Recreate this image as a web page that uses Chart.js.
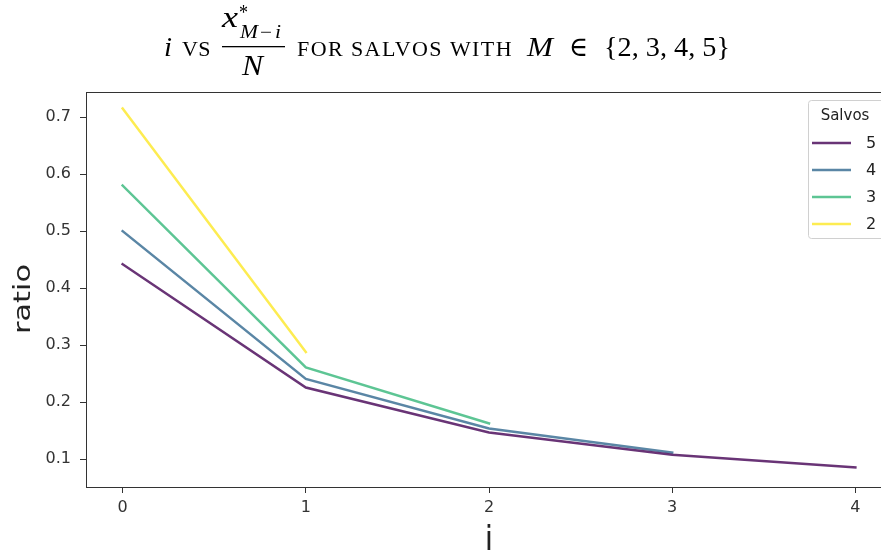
<!DOCTYPE html>
<html>
<head>
<meta charset="utf-8">
<script src="https://cdn.jsdelivr.net/npm/chart.js@4/dist/chart.umd.min.js"></script>
<style>
    html, body { margin: 0; padding: 0; background: #fff; overflow: hidden; }
    #wrap { width: 881px; height: 553px; overflow: hidden; position: relative; }
</style>
</head>
<body>
<div id="wrap"><canvas id="myChart" width="900" height="553"></canvas></div>
<script>
// Data
var steps = [0, 1, 2, 3, 4];
var salvoLabels = ['5', '4', '3', '2'];
var ratio5 = [0.442, 0.226, 0.147, 0.108, 0.086];
var ratio4 = [0.500, 0.241, 0.154, 0.112];
var ratio3 = [0.580, 0.261, 0.163];
var ratio2 = [0.715, 0.288];
var xTicks = [0, 1, 2, 3, 4];
var yTicks = [0.1, 0.2, 0.3, 0.4, 0.5, 0.6, 0.7];
var lineColors = ['rgba(68,1,84,0.8)', 'rgba(49,104,142,0.8)', 'rgba(53,183,121,0.8)', 'rgba(253,231,37,0.8)'];

function toPoints(values) {
    return values.map(function (v, i) { return { x: steps[i], y: v }; });
}

var series = [ratio5, ratio4, ratio3, ratio2];
var datasets = series.map(function (values, k) {
    return {
        label: salvoLabels[k],
        data: toPoints(values),
        borderColor: lineColors[k],
        backgroundColor: lineColors[k],
        borderWidth: 2.5,
        pointRadius: 0,
        tension: 0,
        borderCapStyle: 'square',
        fill: false
    };
});

// draw text squeezed or stretched to a given width
function fitText(ctx, text, x, y, font, w, spaced) {
    ctx.save();
    ctx.font = font;
    var m = ctx.measureText(text).width;
    if (spaced && 'letterSpacing' in ctx) {
        ctx.letterSpacing = ((w - m) / text.length) + 'px';
        m = ctx.measureText(text).width;
    }
    ctx.translate(x, y);
    ctx.scale(w / m, 1);
    ctx.fillText(text, 0, 0);
    ctx.restore();
}

// Title, frame, axis labels and legend drawn on top of the chart
var decorPlugin = {
    id: 'decor',
    afterDraw: function (chart) {
        var ctx = chart.ctx;
        var area = chart.chartArea;
        ctx.save();

        // axes frame
        ctx.strokeStyle = '#333';
        ctx.lineWidth = 1;
        ctx.strokeRect(area.left + 0.5, area.top + 0.5, area.right - area.left, area.bottom - area.top);

        // title
        var serif = '"Liberation Serif", "DejaVu Serif", serif';
        ctx.fillStyle = '#000';
        ctx.textBaseline = 'alphabetic';
        ctx.textAlign = 'left';
        fitText(ctx, 'i', 164, 56, 'italic 28px ' + serif, 8);
        fitText(ctx, 'VS', 182, 56, '22px ' + serif, 29, true);
        fitText(ctx, 'x', 222, 27, 'italic 30px ' + serif, 16);
        fitText(ctx, '*', 239, 19, '20px ' + serif, 9);
        fitText(ctx, 'M', 240, 38, 'italic 18px ' + serif, 18);
        fitText(ctx, '\u2212', 260, 38, '18px ' + serif, 12);
        fitText(ctx, 'i', 275, 38, 'italic 18px ' + serif, 6);
        ctx.fillRect(222, 46, 63, 1.3);
        fitText(ctx, 'N', 242, 75, 'italic 30px ' + serif, 21);
        fitText(ctx, 'FOR SALVOS WITH', 297, 56, '22px ' + serif, 216, true);
        fitText(ctx, 'M', 527, 56, 'italic 28px ' + serif, 26);
        fitText(ctx, '\u2208', 569, 56, '28px ' + serif, 19);
        fitText(ctx, '{2, 3, 4, 5}', 604, 56, '28px ' + serif, 126);

        // axis labels
        ctx.fillStyle = '#222';
        ctx.font = '23px "DejaVu Sans", sans-serif';
        ctx.textAlign = 'center';
        ctx.textBaseline = 'middle';
        ctx.save();
        ctx.translate(24, 299);
        ctx.rotate(-Math.PI / 2);
        var rw = ctx.measureText('ratio').width;
        ctx.scale(70 / rw, 1);
        ctx.fillText('ratio', 0, 0);
        ctx.restore();
        ctx.textBaseline = 'alphabetic';
        ctx.font = '30px "DejaVu Sans", sans-serif';
        ctx.save();
        ctx.translate((area.left + area.right) / 2, 550);
        ctx.scale(1, 1.15);
        ctx.fillText('i', 0, 0);
        ctx.restore();

        // legend
        var lx = 808, ly = 100, lw = 84, lh = 138;
        ctx.fillStyle = 'rgba(255,255,255,0.8)';
        ctx.strokeStyle = '#d0d0d0';
        ctx.lineWidth = 1;
        ctx.beginPath();
        ctx.roundRect(lx + 0.5, ly + 0.5, lw, lh, 3);
        ctx.fill();
        ctx.stroke();
        ctx.fillStyle = '#222';
        ctx.font = '15px "DejaVu Sans", sans-serif';
        ctx.textAlign = 'center';
        ctx.textBaseline = 'middle';
        ctx.fillText('Salvos', 845, 116);
        ctx.textAlign = 'left';
        chart.data.datasets.forEach(function (ds, k) {
            var y = 143 + k * 27;
            ctx.strokeStyle = ds.borderColor;
            ctx.lineWidth = 2.5;
            ctx.beginPath();
            ctx.moveTo(812, y);
            ctx.lineTo(851, y);
            ctx.stroke();
            ctx.fillStyle = '#222';
            ctx.font = '16px "DejaVu Sans", sans-serif';
            ctx.fillText(ds.label, 866, y + 1);
        });
        ctx.restore();
    }
};

var tickFont = { family: '"DejaVu Sans", sans-serif', size: 16 };

var myChart = new Chart(document.getElementById('myChart'), {
    type: 'line',
    data: { datasets: datasets },
    options: {
        responsive: false,
        animation: false,
        layout: { padding: { top: 92, right: 8, left: 0, bottom: 0 } },
        plugins: {
            legend: { display: false },
            tooltip: { enabled: false },
            title: { display: false }
        },
        scales: {
            x: {
                type: 'linear',
                min: -0.2,
                max: 4.2,
                afterBuildTicks: function (s) { s.ticks = xTicks.map(function (v) { return { value: v }; }); },
                afterFit: function (s) { s.height = 66; },
                grid: { display: true, drawOnChartArea: false, drawTicks: true, tickLength: 6, color: '#333' },
                border: { display: false },
                ticks: { font: tickFont, color: '#333', padding: 5, maxRotation: 0,
                    callback: function (v) { return String(v); } }
            },
            y: {
                type: 'linear',
                min: 0.0515,
                max: 0.744,
                afterBuildTicks: function (s) { s.ticks = yTicks.map(function (v) { return { value: v }; }); },
                afterFit: function (s) { s.width = 86; },
                grid: { display: true, drawOnChartArea: false, drawTicks: true, tickLength: 6, color: '#333' },
                border: { display: false },
                ticks: { font: tickFont, color: '#333', padding: 9,
                    callback: function (v) { return v.toFixed(1); } }
            }
        }
    },
    plugins: [decorPlugin]
});
</script>
</body>
</html>
